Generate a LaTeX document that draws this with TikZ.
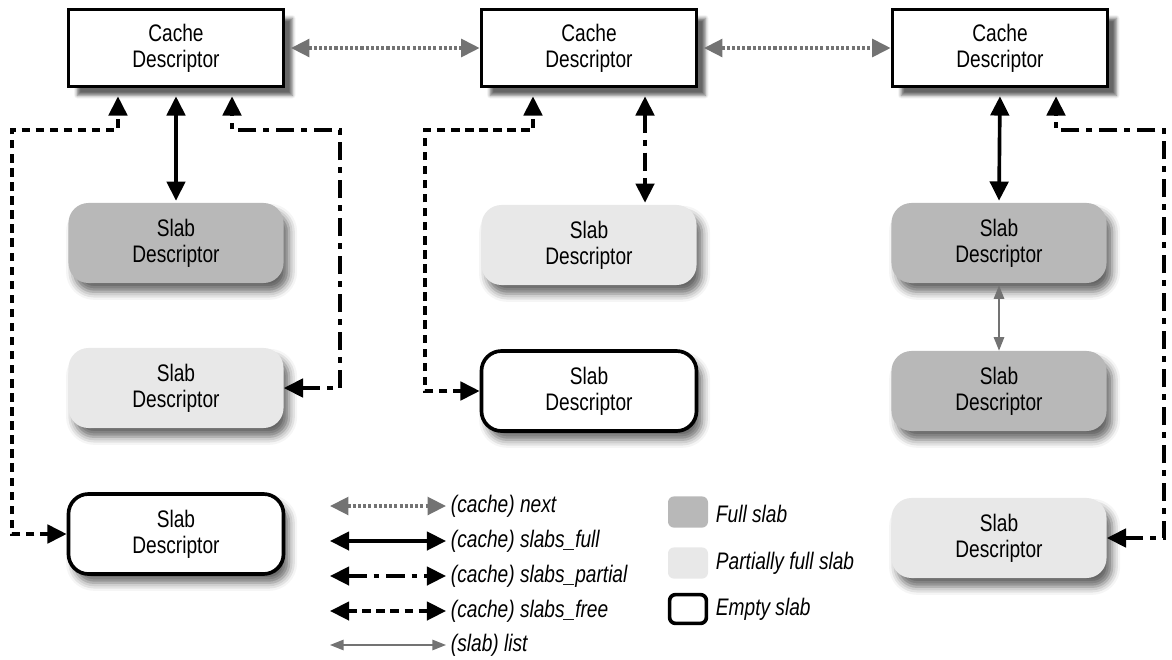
\documentclass[tikz,border=0pt]{standalone}
\usepackage{fontspec}
\setmainfont{Liberation Sans}[FakeStretch=0.8]
\usetikzlibrary{arrows.meta,shadows.blur}

\definecolor{fullgray}{gray}{0.72}
\definecolor{partgray}{gray}{0.91}
\definecolor{nextgray}{gray}{0.45}

\begin{document}
\begin{tikzpicture}[x=0.025cm, y=-0.025cm,
    txt/.style={font=\fontsize{17}{18.5}\selectfont, align=center},
    legtxt/.style={font=\fontsize{17}{18.5}\selectfont\itshape, anchor=west},
    cachebox/.style={txt, draw, line width=2.6pt, fill=white, minimum width=5.375cm, minimum height=1.925cm,
        blur shadow={shadow xshift=0.22cm, shadow yshift=-0.22cm, shadow blur radius=0.08cm, shadow opacity=60}},
    slabbox/.style={txt, rounded corners=0.5cm, minimum width=5.375cm, minimum height=2cm,
        blur shadow={shadow xshift=0.14cm, shadow yshift=-0.22cm, shadow blur radius=0.2cm, shadow opacity=60}},
    fullslab/.style={slabbox, fill=fullgray},
    partslab/.style={slabbox, fill=partgray},
    emptyslab/.style={slabbox, draw, line width=2.6pt, fill=white},
    fullline/.style={line width=2.6pt, >={Triangle[length=0.48cm,width=0.46cm]}, <->},
    partline/.style={fullline, dash pattern=on 13pt off 5pt on 4pt off 5pt},
    freeline/.style={fullline, dash pattern=on 6pt off 4pt},
    nextline/.style={line width=2.6pt, draw=nextgray, dash pattern=on 2.2pt off 1.5pt,
        >={Triangle[length=0.46cm,width=0.44cm,fill=nextgray]}, <->},
    listline/.style={line width=1.1pt, draw=nextgray,
        >={Triangle[length=0.34cm,width=0.26cm,fill=nextgray]}, <->}]

    \useasboundingbox (0,0) rectangle (1172,659);

    % cache descriptors
    \node[cachebox] (cacheL) at (176,48) {Cache\\Descriptor};
    \node[cachebox] (cacheM) at (589,48) {Cache\\Descriptor};
    \node[cachebox] (cacheR) at (1000,48) {Cache\\Descriptor};

    % slab descriptors
    \node[fullslab]  (slabLa) at (176,243) {Slab\\Descriptor};
    \node[partslab]  (slabLb) at (176,388) {Slab\\Descriptor};
    \node[emptyslab] (slabLc) at (176,534) {Slab\\Descriptor};

    \node[partslab]  (slabMa) at (589,245) {Slab\\Descriptor};
    \node[emptyslab] (slabMb) at (589,391) {Slab\\Descriptor};

    \node[fullslab]  (slabRa) at (999,243) {Slab\\Descriptor};
    \node[fullslab]  (slabRb) at (999,391) {Slab\\Descriptor};
    \node[partslab]  (slabRc) at (999,538) {Slab\\Descriptor};

    \coordinate (lfree) at (12,130);
    \coordinate (lpart) at (340,130);
    \coordinate (mfree) at (425,130);
    \coordinate (rpart) at (1164,130);

    % next
    \draw[nextline, shorten <=0.14cm] (cacheL.east) -- (cacheM.west);
    \draw[nextline, shorten <=0.14cm] (cacheM.east) -- (cacheR.west);

    % left cache
    \draw[fullline, shorten <=0.2cm, shorten >=0.05cm] (cacheL.south) -- (slabLa.north);
    \draw[freeline, shorten >=0.2cm] (slabLc.west) -| (lfree) -| ([xshift=-1.45cm]cacheL.south);
    \draw[partline, shorten >=0.2cm] (slabLb.east) -| (lpart) -| ([xshift=1.4cm]cacheL.south);

    % middle cache
    \draw[partline, shorten <=0.2cm, shorten >=0.05cm] ([xshift=1.4cm]cacheM.south) -- ([xshift=1.4cm]slabMa.north);
    \draw[freeline, shorten >=0.2cm] (slabMb.west) -| (mfree) -| ([xshift=-1.4cm]cacheM.south);

    % right cache
    \draw[fullline, shorten <=0.2cm, shorten >=0.05cm] (cacheR.south) -- (slabRa.north);
    \draw[listline, shorten <=0.05cm] (slabRa.south) -- (slabRb.north);
    \draw[partline, shorten >=0.2cm] (slabRc.east) -| (rpart) -| ([xshift=1.4cm]cacheR.south);

    % legend
    \coordinate (anext) at (330,506);
    \coordinate (afull) at (330,541);
    \coordinate (apart) at (330,576);
    \coordinate (afree) at (330,611);
    \coordinate (alist) at (330,645);

    \node[legtxt] (lnext) at (446,506) {(cache) next};
    \node[legtxt] (lfull) at (446,541) {(cache) slabs\_full};
    \node[legtxt] (lpart) at (446,576) {(cache) slabs\_partial};
    \node[legtxt] (lfreet) at (446,611) {(cache) slabs\_free};
    \node[legtxt] (llist) at (446,645) {(slab) list};

    \draw[nextline] (anext) -- (lnext.west);
    \draw[fullline] (afull) -- (lfull.west);
    \draw[partline] (apart) -- (lpart.west);
    \draw[freeline] (afree) -- (lfreet.west);
    \draw[listline] (alist) -- (llist.west);

    \node[fill=fullgray, rounded corners=0.15cm, minimum width=1cm, minimum height=0.78cm] (kfull) at (688,512) {};
    \node[fill=partgray, rounded corners=0.15cm, minimum width=1cm, minimum height=0.78cm] (kpart) at (688,563) {};
    \node[draw, line width=2.6pt, rounded corners=0.15cm, minimum width=0.92cm, minimum height=0.72cm] (kempty) at (688,609) {};

    \node[legtxt] (tfull) at (711,514) {Full slab};
    \node[legtxt] (tpart) at (711,563) {Partially full slab};
    \node[legtxt] (tempty) at (711,609) {Empty slab};
\end{tikzpicture}
\end{document}
